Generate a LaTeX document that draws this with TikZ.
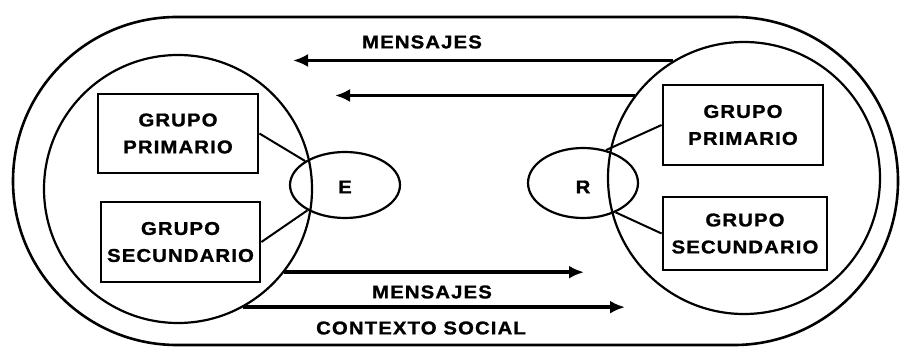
\documentclass[tikz,border=0pt]{standalone}
\usepackage{fontspec}
\newfontfamily\labfont[LetterSpace=6,FakeStretch=1.1,FakeBold=1.2]{Liberation Sans}
\usetikzlibrary{shapes.geometric,arrows.meta}
\begin{document}
\begin{tikzpicture}[x=1pt,y=-1pt,
  txt/.style={font=\labfont\bfseries\fontsize{18.5}{27}\selectfont, align=center, inner sep=0pt},
  gbox/.style={draw, line width=2.8pt, txt},
  ring/.style={draw, circle, line width=2.2pt, inner sep=0pt},
  oval/.style={draw, ellipse, line width=2.2pt, inner sep=0pt},
  link/.style={line width=2pt},
  msg/.style={line width=3.4pt, -{Latex[length=15pt,width=13pt]}}]
\useasboundingbox (0,0) rectangle (901,347);
% outer context
\draw[line width=2.6pt, rounded corners=164pt] (13,17) rectangle (898,345);
% circles
\node[ring, minimum size=268pt] (LC) at (178,189) {};
\node[ring, minimum size=272pt] (RC) at (744,178) {};
% ellipses
\node[oval, minimum width=110pt, minimum height=66pt] (E) at (345,185) {};
\node[oval, minimum width=110pt, minimum height=70pt] (R) at (583,183) {};
\node[txt] (Et) at (345,187) {E};
\node[txt] (Rt) at (583,187) {R};
% boxes
\node[gbox, minimum width=160pt, minimum height=79pt] (lp) at (178,133.5) {GRUPO\\PRIMARIO};
\node[gbox, minimum width=159pt, minimum height=80pt] (ls) at (180.5,242) {GRUPO\\SECUNDARIO};
\node[gbox, minimum width=160pt, minimum height=80pt] (rp) at (743,125) {GRUPO\\PRIMARIO};
\node[gbox, minimum width=164pt, minimum height=73pt] (rs) at (745,233.5) {GRUPO\\SECUNDARIO};
% links
\draw[link] (lp.east) -- (E.149);
\draw[link] (ls.east) -- (E.214);
\draw[link] (rp.west) -- (R.55);
\draw[link] (rs.west) -- (R.-42);
% arrows
\coordinate (t1) at (293,62);
\coordinate (t2) at (335,97);
\coordinate (b1) at (584,273);
\coordinate (b2) at (625,307);
\draw[msg] (RC.121.5) -- (RC.121.5 -| t1);
\draw[msg] (RC.143.4) -- (RC.143.4 -| t2);
\draw[msg] (LC.-38.9) -- (LC.-38.9 -| b1);
\draw[msg] (LC.-61.7) -- (LC.-61.7 -| b2);
% labels
\node[txt] (m1) at (422,42) {MENSAJES};
\node[txt] (m2) at (432,292) {MENSAJES};
\node[txt] (cs) at (421,328) {CONTEXTO SOCIAL};
\end{tikzpicture}
\end{document}
